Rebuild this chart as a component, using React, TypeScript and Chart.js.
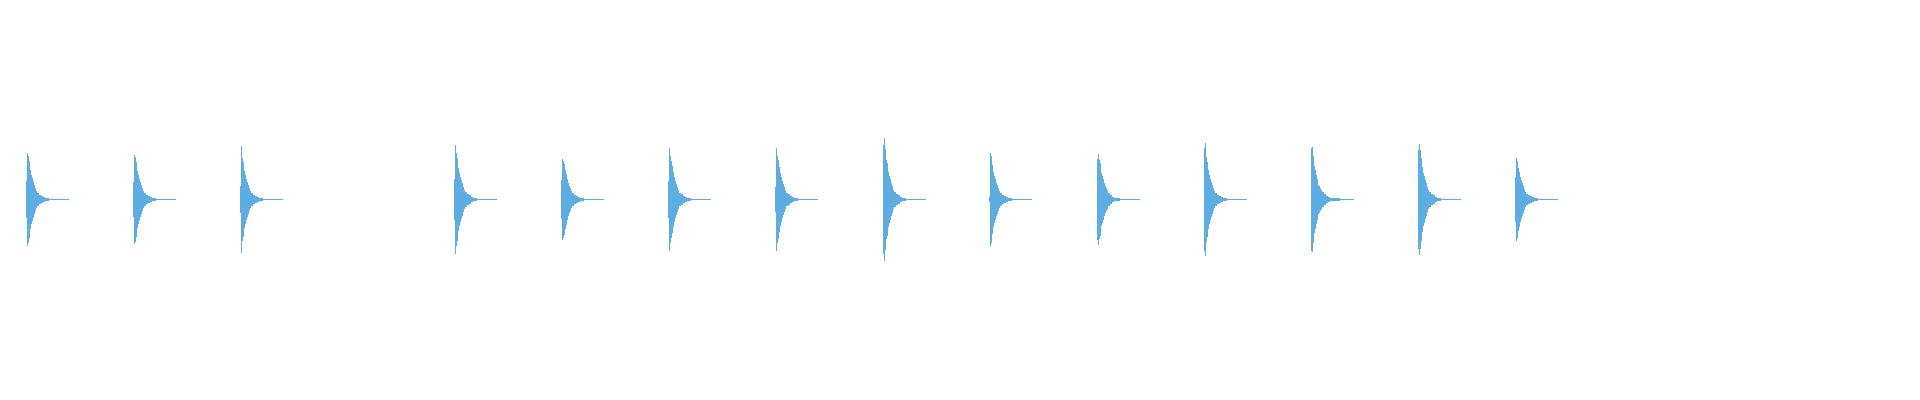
import { useEffect, useRef } from 'react'
import { Chart, registerables } from 'chart.js'

Chart.register(...registerables)

// onset of each hit (ms from start of clip)
const hitOnsets = [28, 135, 242, 456, 563, 670, 777, 885, 991, 1099, 1206, 1313, 1420, 1517]

// envelope sample positions, relative to each onset
const stepOffsets = [-2, -1, 0, 1, 2, 3, 4, 5, 6, 7, 8, 9, 11, 13, 15, 17, 21, 27, 31, 41]

// peak amplitude of each hit at those offsets
const hit01 = [0, 18.5, 46.5, 43.5, 38.5, 29.5, 24.5, 21.5, 18.5, 14.5, 11.5, 8.5, 6.5, 4.5, 3.5, 2.5, 1.5, 0.5, 0.5, 0.5]
const hit02 = [0, 17.5, 44.5, 42.5, 37.5, 28.5, 24.5, 20.5, 17.5, 14.5, 11.5, 8.5, 6.5, 4.5, 3.5, 2.5, 1.5, 0.5, 0.5, 0.5]
const hit03 = [0, 13.5, 53.5, 41.5, 37.5, 28.5, 24.5, 20.5, 17.5, 14.5, 11.5, 8.5, 6.5, 4.5, 3.5, 2.5, 1.5, 0.5, 0.5, 0.5]
const hit04 = [0, 20.5, 54.5, 46.5, 41.5, 31.5, 26.5, 22.5, 19.5, 16.5, 12.5, 9.5, 7.5, 5.5, 4.5, 2.5, 1.5, 0.5, 0.5, 0.5]
const hit05 = [0, 19.5, 40.5, 38.5, 35.5, 29.5, 25.5, 20.5, 16.5, 13.5, 11.5, 8.5, 6.5, 4.5, 3.5, 2.5, 1.5, 0.5, 0.5, 0.5]
const hit06 = [0, 18.5, 51.5, 43.5, 38.5, 33.5, 27.5, 22.5, 18.5, 15.5, 12.5, 9.5, 6.5, 5.5, 3.5, 2.5, 1.5, 0.5, 0.5, 0.5]
const hit07 = [0, 12.5, 51.5, 43.5, 39.5, 32.5, 26.5, 22.5, 18.5, 15.5, 12.5, 9.5, 6.5, 5.5, 3.5, 2.5, 1.5, 0.5, 0.5, 0.5]
const hit08 = [0, 54.5, 61.5, 50.5, 39.5, 36.5, 27.5, 23.5, 20.5, 16.5, 13.5, 9.5, 7.5, 5.5, 4.5, 2.5, 1.5, 0.5, 0.5, 0.5]
const hit09 = [0, 2.5, 46.5, 43.5, 34.5, 27.5, 23.5, 20.5, 16.5, 14.5, 11.5, 8.5, 6.5, 4.5, 3.5, 2.5, 1.5, 0.5, 0.5, 0.5]
const hit10 = [0, 40.5, 45.5, 39.5, 36.5, 26.5, 23.5, 20.5, 16.5, 13.5, 11.5, 9.5, 6.5, 4.5, 2.5, 1.5, 1.5, 0.5, 0.5, 0.5]
const hit11 = [0.5, 51.5, 56.5, 42.5, 37.5, 29.5, 24.5, 20.5, 17.5, 14.5, 11.5, 8.5, 6.5, 4.5, 3.5, 2.5, 1.5, 0.5, 0.5, 0.5]
const hit12 = [0, 51.5, 52.5, 43.5, 33.5, 29.5, 24.5, 20.5, 14.5, 13.5, 11.5, 9.5, 7.5, 5.5, 3.5, 2.5, 1.5, 1.5, 0.5, 0.5]
const hit13 = [0.5, 49.5, 55.5, 49.5, 41.5, 32.5, 26.5, 23.5, 19.5, 16.5, 12.5, 9.5, 7.5, 5.5, 4.5, 2.5, 1.5, 0.5, 0.5, 0.5]
const hit14 = [0, 22.5, 41.5, 38.5, 31.5, 27.5, 22.5, 19.5, 16.5, 13.5, 10.5, 7.5, 5.5, 4.5, 3.5, 2.5, 1.5, 0.5, 0.5, 0.5]

const hitEnvelopes = [hit01, hit02, hit03, hit04, hit05, hit06, hit07, hit08, hit09, hit10, hit11, hit12, hit13, hit14]

const WAVE_COLOR = '#5DADE2'

const App = () => {
  const canvasRef = useRef<HTMLCanvasElement>(null)
  const chartRef = useRef<Chart | null>(null)

  useEffect(() => {
    if (!canvasRef.current) return
    chartRef.current?.destroy()

    const upper: { x: number; y: number | null }[] = []
    const lower: { x: number; y: number | null }[] = []
    hitOnsets.forEach((t0, i) => {
      const env = hitEnvelopes[i]
      stepOffsets.forEach((dx, j) => {
        upper.push({ x: t0 + dx, y: env[j] })
        lower.push({ x: t0 + dx, y: -env[j] })
      })
      // break the trace between hits
      upper.push({ x: t0 + 45, y: null })
      lower.push({ x: t0 + 45, y: null })
    })

    const wave = {
      stepped: 'after' as const,
      backgroundColor: WAVE_COLOR,
      borderColor: 'transparent',
      borderWidth: 0,
      pointRadius: 0,
      pointHoverRadius: 0,
      spanGaps: false,
    }

    chartRef.current = new Chart(canvasRef.current, {
      type: 'line',
      data: {
        datasets: [
          { ...wave, label: 'max', data: upper, fill: false },
          // one band from min up to max, so there is no seam on the zero line
          { ...wave, label: 'min', data: lower, fill: 0 },
        ],
      },
      options: {
        animation: false,
        responsive: true,
        maintainAspectRatio: false,
        layout: { padding: 0 },
        plugins: { legend: { display: false }, tooltip: { enabled: false } },
        scales: {
          x: { type: 'linear', min: 0, max: 1920, display: false },
          y: { min: -200.5, max: 199.5, display: false },
        },
      },
    })
    return () => { chartRef.current?.destroy(); chartRef.current = null }
  }, [])

  return (
    <div style={{ position:'fixed', left:0, top:0, width:1920, height:400, background:'#FFFFFF' }}>
      <canvas ref={canvasRef} />
    </div>
  )
}

export default App
